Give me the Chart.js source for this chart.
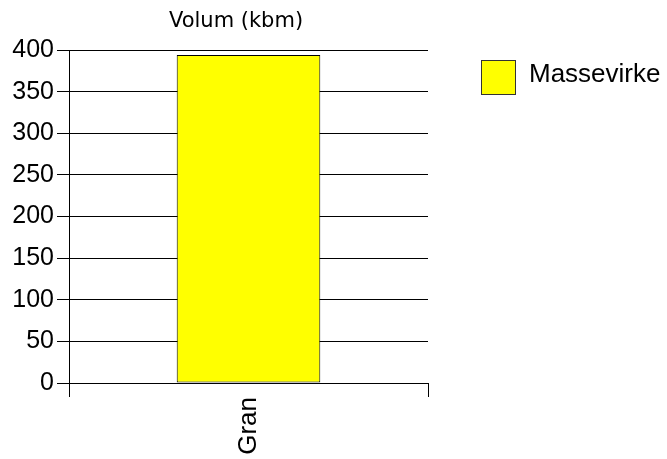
<!DOCTYPE html>
<html>
<head>
<meta charset="utf-8">
<script src="https://cdn.jsdelivr.net/npm/chart.js@4/dist/chart.umd.min.js"></script>
<style>
  html,body{margin:0;padding:0;background:#fff}
  #wrap{width:667px;height:459px;position:relative}
</style>
</head>
<body>
<div id="wrap"><canvas id="chart"></canvas></div>
<script>
'use strict';

// data
const categories = ['Gran'];
const seriesName = 'Massevirke';
const volumes = [394];
const yTicks = [0, 50, 100, 150, 200, 250, 300, 350, 400];
const chartTitle = 'Volum (kbm)';

const ARIAL = '"Liberation Sans", Arial, sans-serif';

// title + legend drawn at fixed spots (the built-in ones can't be placed like this)
const decorPlugin = {
  id: 'decor',
  afterDraw(chart) {
    const c = chart.ctx;
    c.save();
    c.fillStyle = '#000';
    c.font = '21px "DejaVu Sans", Verdana, sans-serif';
    c.textAlign = 'center';
    c.textBaseline = 'alphabetic';
    c.fillText(chartTitle, 236, 27);

    const ds = chart.data.datasets[0];
    c.fillStyle = ds.backgroundColor;
    c.fillRect(481, 60, 35, 35);
    c.strokeStyle = '#333';
    c.lineWidth = 1;
    c.strokeRect(481.5, 60.5, 34, 34);
    c.fillStyle = '#000';
    c.font = '26px ' + ARIAL;
    c.textAlign = 'left';
    c.fillText(ds.label, 529, 82);
    c.restore();
  }
};

new Chart(document.getElementById('chart'), {
  type: 'bar',
  data: {
    labels: categories,
    datasets: [{
      label: seriesName,
      data: volumes,
      backgroundColor: '#ffff00',
      borderColor: '#000',
      borderWidth: 1,
      borderSkipped: false,
      barPercentage: 0.4,
      categoryPercentage: 1
    }]
  },
  options: {
    responsive: true,
    maintainAspectRatio: false,
    animation: false,
    layout: { padding: { top: 50, right: 239, left: 0, bottom: 0 } },
    plugins: { legend: { display: false }, title: { display: false }, tooltip: { enabled: false } },
    scales: {
      x: {
        grid: { offset: true, drawOnChartArea: false, color: '#000', tickLength: 14 },
        border: { color: '#000' },
        ticks: { color: '#000', font: { family: ARIAL, size: 26 }, minRotation: 90, maxRotation: 90, padding: 0 },
        afterFit: s => { s.height = 76; }
      },
      y: {
        min: 0, max: 400,
        afterBuildTicks: s => { s.ticks = yTicks.map(v => ({ value: v })); },
        grid: { color: '#000', tickLength: 12 },
        border: { color: '#000' },
        ticks: { color: '#000', font: { family: ARIAL, size: 25 }, padding: 3 },
        afterFit: s => { s.width = 69; }
      }
    }
  },
  plugins: [decorPlugin]
});
</script>
</body>
</html>
